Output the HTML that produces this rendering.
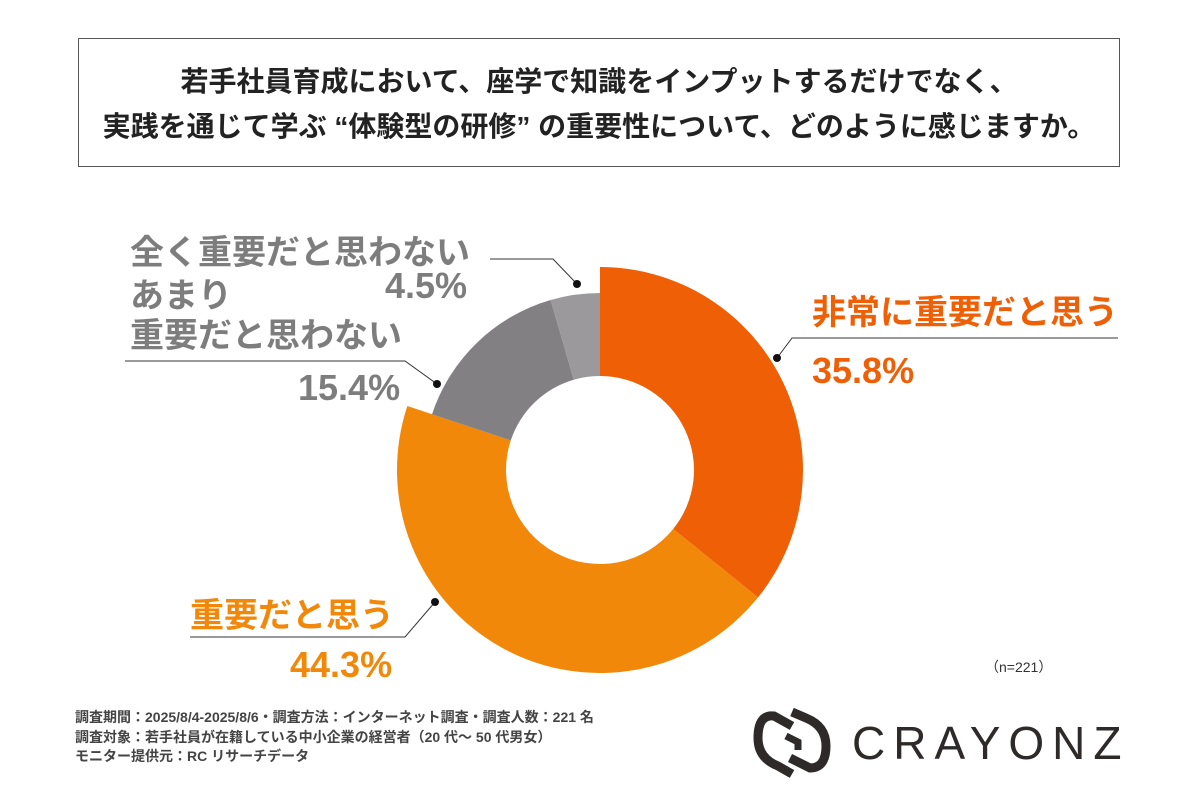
<!DOCTYPE html>
<html><head><meta charset="utf-8"><style>
html,body{margin:0;padding:0;background:#fff;}
body{width:1200px;height:800px;position:relative;overflow:hidden;font-family:"Liberation Sans","Noto Sans CJK JP",sans-serif;}
.t{position:absolute;white-space:nowrap;font-weight:bold;}
</style></head><body>
<div style="position:absolute;left:78px;top:38px;width:1042px;height:129px;border:1.5px solid #555;box-sizing:border-box;"></div>
<div class="t" style="left:78px;top:59px;width:1042px;text-align:center;font-size:28px;line-height:45px;color:#222;">若手社員育成において、座学で知識をインプットするだけでなく、<br>実践を通じて学ぶ “体験型の研修” の重要性について、どのように感じますか。</div>
<svg id="chart" width="1200" height="800" style="position:absolute;left:0;top:0;">
<g id="slices"></g>
<g stroke="#333" stroke-width="1" fill="none">
<polyline points="777,358 792,338 1118,338"/>
<polyline points="435,602 405,637 190,637"/>
<polyline points="577,284 553,259 490,259"/>
<polyline points="437,384 405,361 125,361"/>
</g>
<g fill="#111"><circle cx="777" cy="358" r="4"/><circle cx="435" cy="602" r="4"/><circle cx="577" cy="284" r="4"/><circle cx="437" cy="384" r="4"/></g>
</svg>
<div class="t" style="left:812px;top:285px;font-size:34px;color:#ee5f06;">非常に重要だと思う</div>
<div class="t" style="left:812px;top:350px;font-size:36px;color:#ee5f06;">35.8%</div>
<div class="t" style="left:190px;top:588px;font-size:34px;color:#f2880a;">重要だと思う</div>
<div class="t" style="left:290px;top:644px;font-size:36px;color:#f2880a;">44.3%</div>
<div class="t" style="left:130px;top:225px;font-size:34px;color:#7d7d7d;">全く重要だと思わない</div>
<div class="t" style="left:385px;top:265px;font-size:36px;color:#7d7d7d;">4.5%</div>
<div class="t" style="left:130px;top:276px;font-size:34px;line-height:40px;color:#7d7d7d;">あまり<br>重要だと思わない</div>
<div class="t" style="left:298px;top:367px;font-size:36px;color:#7d7d7d;">15.4%</div>
<div class="t" style="left:985px;top:657px;font-size:14px;font-weight:normal;color:#333;">（n=221）</div>
<div class="t" style="left:75px;top:708px;font-size:14px;line-height:19.5px;color:#444;">調査期間：2025/8/4-2025/8/6・調査方法：インターネット調査・調査人数：221 名<br>調査対象：若手社員が在籍している中小企業の経営者（20 代〜 50 代男女）<br>モニター提供元：RC リサーチデータ</div>
<svg width="80" height="70" style="position:absolute;left:752px;top:708px;" viewBox="0 0 80 70">
<path d="M40 18 L22 8 Q6 6 6 30 Q6 50 26 58 L40 66" fill="none" stroke="#2d2a29" stroke-width="9"/>
<path d="M38 50 L58 60 Q74 60 74 38 Q74 18 54 10 L40 4" fill="none" stroke="#2d2a29" stroke-width="9"/>
<path d="M34 28 L46 34 L46 42" fill="none" stroke="#2d2a29" stroke-width="7"/>
</svg>
<div class="t" style="left:852px;top:716px;font-size:46px;font-weight:normal;letter-spacing:8px;color:#2d2a29;">CRAYONZ</div>
<script>
const categories=["非常に重要だと思う","重要だと思う","あまり重要だと思わない","全く重要だと思わない"];
const values=[35.8,44.3,15.4,4.5];
const colors=["#ee5f06","#f2880a","#828083","#9b999c"];
const outerR=[203,203,177,177];
const cx=600,cy=470,innerR=94;
const g=document.getElementById('slices');
const total=values.reduce((a,b)=>a+b,0);
let acc=0;
function pt(r,a){return [cx+r*Math.sin(a),cy-r*Math.cos(a)];}
values.forEach((v,i)=>{
  const a0=acc/total*2*Math.PI;acc+=v;const a1=acc/total*2*Math.PI;
  const R=outerR[i];const large=(a1-a0)>Math.PI?1:0;
  const p1=pt(R,a0),p2=pt(R,a1),p3=pt(innerR,a1),p4=pt(innerR,a0);
  const p=document.createElementNS('http://www.w3.org/2000/svg','path');
  p.setAttribute('d',`M${p1[0]},${p1[1]} A${R},${R} 0 ${large} 1 ${p2[0]},${p2[1]} L${p3[0]},${p3[1]} A${innerR},${innerR} 0 ${large} 0 ${p4[0]},${p4[1]} Z`);
  p.setAttribute('fill',colors[i]);
  
  
  g.appendChild(p);
});
</script>
</body></html>
